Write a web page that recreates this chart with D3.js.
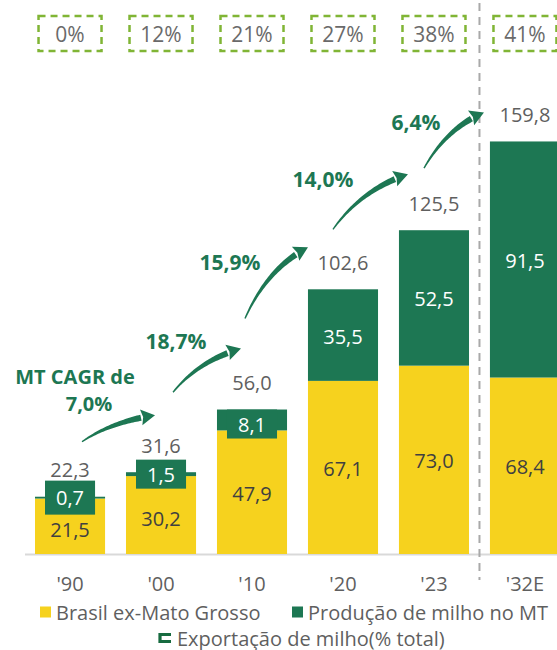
<!DOCTYPE html>
<html>
<head>
<meta charset="utf-8">
<script src="https://cdn.jsdelivr.net/npm/d3@7"></script>
<style>
  html, body { margin: 0; padding: 0; background: #fff; }
  svg { display: block; font-family: "Open Sans", "Noto Sans", sans-serif; }
</style>
</head>
<body>
<svg id="chart" width="557" height="650"></svg>
<script>
// Corn production (Mt): Brazil excluding Mato Grosso + Mato Grosso
const categories   = ["'90", "'00", "'10", "'20", "'23", "'32E"];
const brasilExMT   = [21.5, 30.2, 47.9, 67.1, 73.0, 68.4];
const mtProduction = [0.7, 1.5, 8.1, 35.5, 52.5, 91.5];
const totals       = [22.3, 31.6, 56.0, 102.6, 125.5, 159.8];
// Corn exports as share of total production (%)
const exportShare  = [0, 12, 21, 27, 38, 41];
// MT growth rates between periods
const cagrLabels   = [["MT CAGR de", "7,0%"], ["18,7%"], ["15,9%"], ["14,0%"], ["6,4%"]];
const seriesNames  = ["Brasil ex-Mato Grosso", "Produção de milho no MT"];
const exportLegend = "Exportação de milho(% total)";

const YELLOW = "#f6d21e";
const GREEN  = "#1d7753";
const LIME   = "#80b535";
const GRAY   = "#5f5f5f";
const DARK   = "#404040";

const ptBR = d3.formatLocale({decimal: ",", thousands: ".", grouping: [3], currency: ["R$", ""]});
const fmt = ptBR.format(".1f");

const svg = d3.select("#chart");
const W = 557, H = 650;

const x = d3.scaleBand().domain(categories).range([35, 560]).paddingInner(0.23).paddingOuter(0);
const y = d3.scaleLinear().domain([0, 200]).range([554, 38]);
const bw = x.bandwidth();
const cx = c => x(c) + bw / 2;

const rows = categories.map((c, i) => ({
  cat: c, base: brasilExMT[i], mt: mtProduction[i], total: totals[i], share: exportShare[i]
}));

// baseline
svg.append("line")
  .attr("x1", 25).attr("x2", W).attr("y1", y(0) + 0.5).attr("y2", y(0) + 0.5)
  .attr("stroke", "#d9d9d9").attr("stroke-width", 2);

// separator between history and projection
const sepX = (x("'23") + bw + x("'32E")) / 2;
svg.append("line")
  .attr("x1", sepX).attr("x2", sepX).attr("y1", 3).attr("y2", 580)
  .attr("stroke", "#a9a9a9").attr("stroke-width", 2).attr("stroke-dasharray", "8,6");

// stacked bars
const g = svg.append("g");
g.selectAll("rect.base").data(rows).join("rect")
  .attr("class", "base")
  .attr("x", d => x(d.cat)).attr("width", bw)
  .attr("y", d => y(d.base)).attr("height", d => y(0) - y(d.base))
  .attr("fill", YELLOW);
g.selectAll("rect.mt").data(rows).join("rect")
  .attr("class", "mt")
  .attr("x", d => x(d.cat)).attr("width", bw)
  .attr("y", d => y(d.base + d.mt)).attr("height", d => y(d.base) - y(d.base + d.mt))
  .attr("fill", GREEN);

// yellow segment labels
g.selectAll("text.base").data(rows).join("text")
  .attr("class", "base")
  .attr("x", d => cx(d.cat))
  .attr("y", d => (y(0) + y(d.base)) / 2 + (d.mt < 2 ? 3 : 1))
  .attr("text-anchor", "middle").attr("dominant-baseline", "central")
  .attr("font-size", 20).attr("fill", DARK)
  .text(d => fmt(d.base));

// green segment labels (small segments get a tab behind the number)
rows.forEach(d => {
  const top = y(d.base + d.mt), bot = y(d.base);
  const segH = bot - top;
  const t = g.append("text")
    .attr("x", cx(d.cat))
    .attr("text-anchor", "middle").attr("dominant-baseline", "central")
    .attr("font-size", 20).attr("fill", "#fff")
    .text(fmt(d.mt));
  if (segH < 40) {
    const tw = t.node().getComputedTextLength();
    const bh = d.mt < 1 ? 34 : 29;
    const boxTop = segH > 15 ? top : (top + bot) / 2 - bh / 2;
    g.insert("rect", () => t.node())
      .attr("x", cx(d.cat) - tw / 2 - 11).attr("width", tw + 22)
      .attr("y", boxTop).attr("height", bh)
      .attr("fill", GREEN);
    t.attr("y", boxTop + bh / 2);
  } else {
    t.attr("y", (top + bot) / 2 + 1);
  }
});

// totals
g.selectAll("text.total").data(rows).join("text")
  .attr("class", "total")
  .attr("x", d => cx(d.cat))
  .attr("y", d => y(d.base + d.mt) - 27)
  .attr("text-anchor", "middle").attr("dominant-baseline", "central")
  .attr("font-size", 20).attr("fill", GRAY)
  .text(d => fmt(d.total));

// category axis labels
g.selectAll("text.cat").data(rows).join("text")
  .attr("class", "cat")
  .attr("x", d => cx(d.cat)).attr("y", 583)
  .attr("text-anchor", "middle").attr("dominant-baseline", "central")
  .attr("font-size", 20).attr("fill", GRAY)
  .text(d => d.cat);

// export share boxes
const sb = svg.append("g");
rows.forEach(d => {
  sb.append("rect")
    .attr("x", cx(d.cat) - 31.5).attr("y", 16).attr("width", 63).attr("height", 35)
    .attr("fill", "none").attr("stroke", LIME).attr("stroke-width", 2.5)
    .attr("stroke-dasharray", "7,5");
  sb.append("text")
    .attr("x", cx(d.cat)).attr("y", 34)
    .attr("text-anchor", "middle").attr("dominant-baseline", "central")
    .attr("font-size", 21).attr("fill", "#6a6a6a")
    .text(d.share + "%");
});

// growth arrows: tail/tip offsets relative to the bars they connect
const arrowLayout = [
  {tail: [12, -55], tip: [-6, -57], bend: [0.4, 0.75]},
  {tail: [12, -80], tip: [-11, -61], bend: [0.38, 0.72]},
  {tail: [-7, -91], tip: [-35, -42], bend: [0.35, 0.7]},
  {tail: [-10, -60], tip: [-26, -56], bend: [0.38, 0.72]},
  {tail: [-10, -62], tip: [-41, -29], bend: [0.38, 0.72]}
];
const labelLayout = [
  [[75, 376], [89, 403]],
  [[176, 341]],
  [[230, 262]],
  [[323, 179]],
  [[416, 122]]
];

function arrowPaths(p0, p2, bend) {
  const c = [p0[0] + bend[0] * (p2[0] - p0[0]), p0[1] + bend[1] * (p2[1] - p0[1])];
  const B = t => [
    (1 - t) * (1 - t) * p0[0] + 2 * (1 - t) * t * c[0] + t * t * p2[0],
    (1 - t) * (1 - t) * p0[1] + 2 * (1 - t) * t * c[1] + t * t * p2[1]
  ];
  const D = t => [
    2 * (1 - t) * (c[0] - p0[0]) + 2 * t * (p2[0] - c[0]),
    2 * (1 - t) * (c[1] - p0[1]) + 2 * t * (p2[1] - c[1])
  ];
  const headLen = 14, headHalf = 8;
  const dEnd = D(1), lEnd = Math.hypot(dEnd[0], dEnd[1]);
  const u = [dEnd[0] / lEnd, dEnd[1] / lEnd];
  const base = [p2[0] - u[0] * headLen, p2[1] - u[1] * headLen];
  // find parameter where curve reaches head base
  let tEnd = 1;
  for (let t = 1; t > 0; t -= 0.005) {
    const p = B(t);
    if (Math.hypot(p[0] - p2[0], p[1] - p2[1]) >= headLen) { tEnd = t; break; }
  }
  const N = 40, left = [], right = [];
  for (let i = 0; i <= N; i++) {
    const t = tEnd * i / N;
    const p = B(t), dv = D(t), l = Math.hypot(dv[0], dv[1]);
    const n = [-dv[1] / l, dv[0] / l];
    const w = 0.7 + 2.4 * (i / N);
    left.push([p[0] + n[0] * w, p[1] + n[1] * w]);
    right.push([p[0] - n[0] * w, p[1] - n[1] * w]);
  }
  const body = d3.line()(left.concat(right.reverse())) + "Z";
  const nv = [-u[1], u[0]];
  const head = d3.line()([
    p2,
    [base[0] + nv[0] * headHalf, base[1] + nv[1] * headHalf],
    [base[0] + u[0] * 2, base[1] + u[1] * 2],
    [base[0] - nv[0] * headHalf, base[1] - nv[1] * headHalf]
  ]) + "Z";
  return [body, head];
}

const ag = svg.append("g");
arrowLayout.forEach((a, i) => {
  const from = rows[i], to = rows[i + 1];
  const p0 = [cx(from.cat) + a.tail[0], y(from.base + from.mt) + a.tail[1]];
  const p2 = [cx(to.cat) + a.tip[0], y(to.base + to.mt) + a.tip[1]];
  const [body, head] = arrowPaths(p0, p2, a.bend);
  ag.append("path").attr("d", body).attr("fill", GREEN);
  ag.append("path").attr("d", head).attr("fill", GREEN);
  const twoLine = cagrLabels[i].length > 1;
  const label = ag.append("text")
    .attr("text-anchor", "middle").attr("dominant-baseline", "central")
    .attr("font-size", twoLine ? 20 : 21).attr("font-weight", 700).attr("fill", GREEN);
  cagrLabels[i].forEach((line, k) => {
    const pos = labelLayout[i][k];
    label.append("tspan").attr("x", pos[0]).attr("y", pos[1]).text(line);
  });
});

// legend
const lg = svg.append("g").attr("font-size", 20).attr("fill", GRAY);
const legendItems = [
  {name: seriesNames[0], color: YELLOW, sx: 40, tx: 56, y: 612},
  {name: seriesNames[1], color: GREEN, sx: 292, tx: 308, y: 612}
];
legendItems.forEach(it => {
  lg.append("rect").attr("x", it.sx).attr("y", it.y - 5.5).attr("width", 11).attr("height", 11).attr("fill", it.color);
  lg.append("text").attr("x", it.tx).attr("y", it.y).attr("dominant-baseline", "central").text(it.name);
});
// dashed-box marker for the export share
const my = 638;
lg.append("path")
  .attr("d", `M171,${my - 3.5} H160 V${my + 3.5} H171`)
  .attr("fill", "none").attr("stroke", "#176b40").attr("stroke-width", 3.2);
lg.append("text").attr("x", 177).attr("y", my).attr("dominant-baseline", "central").text(exportLegend);
</script>
</body>
</html>
